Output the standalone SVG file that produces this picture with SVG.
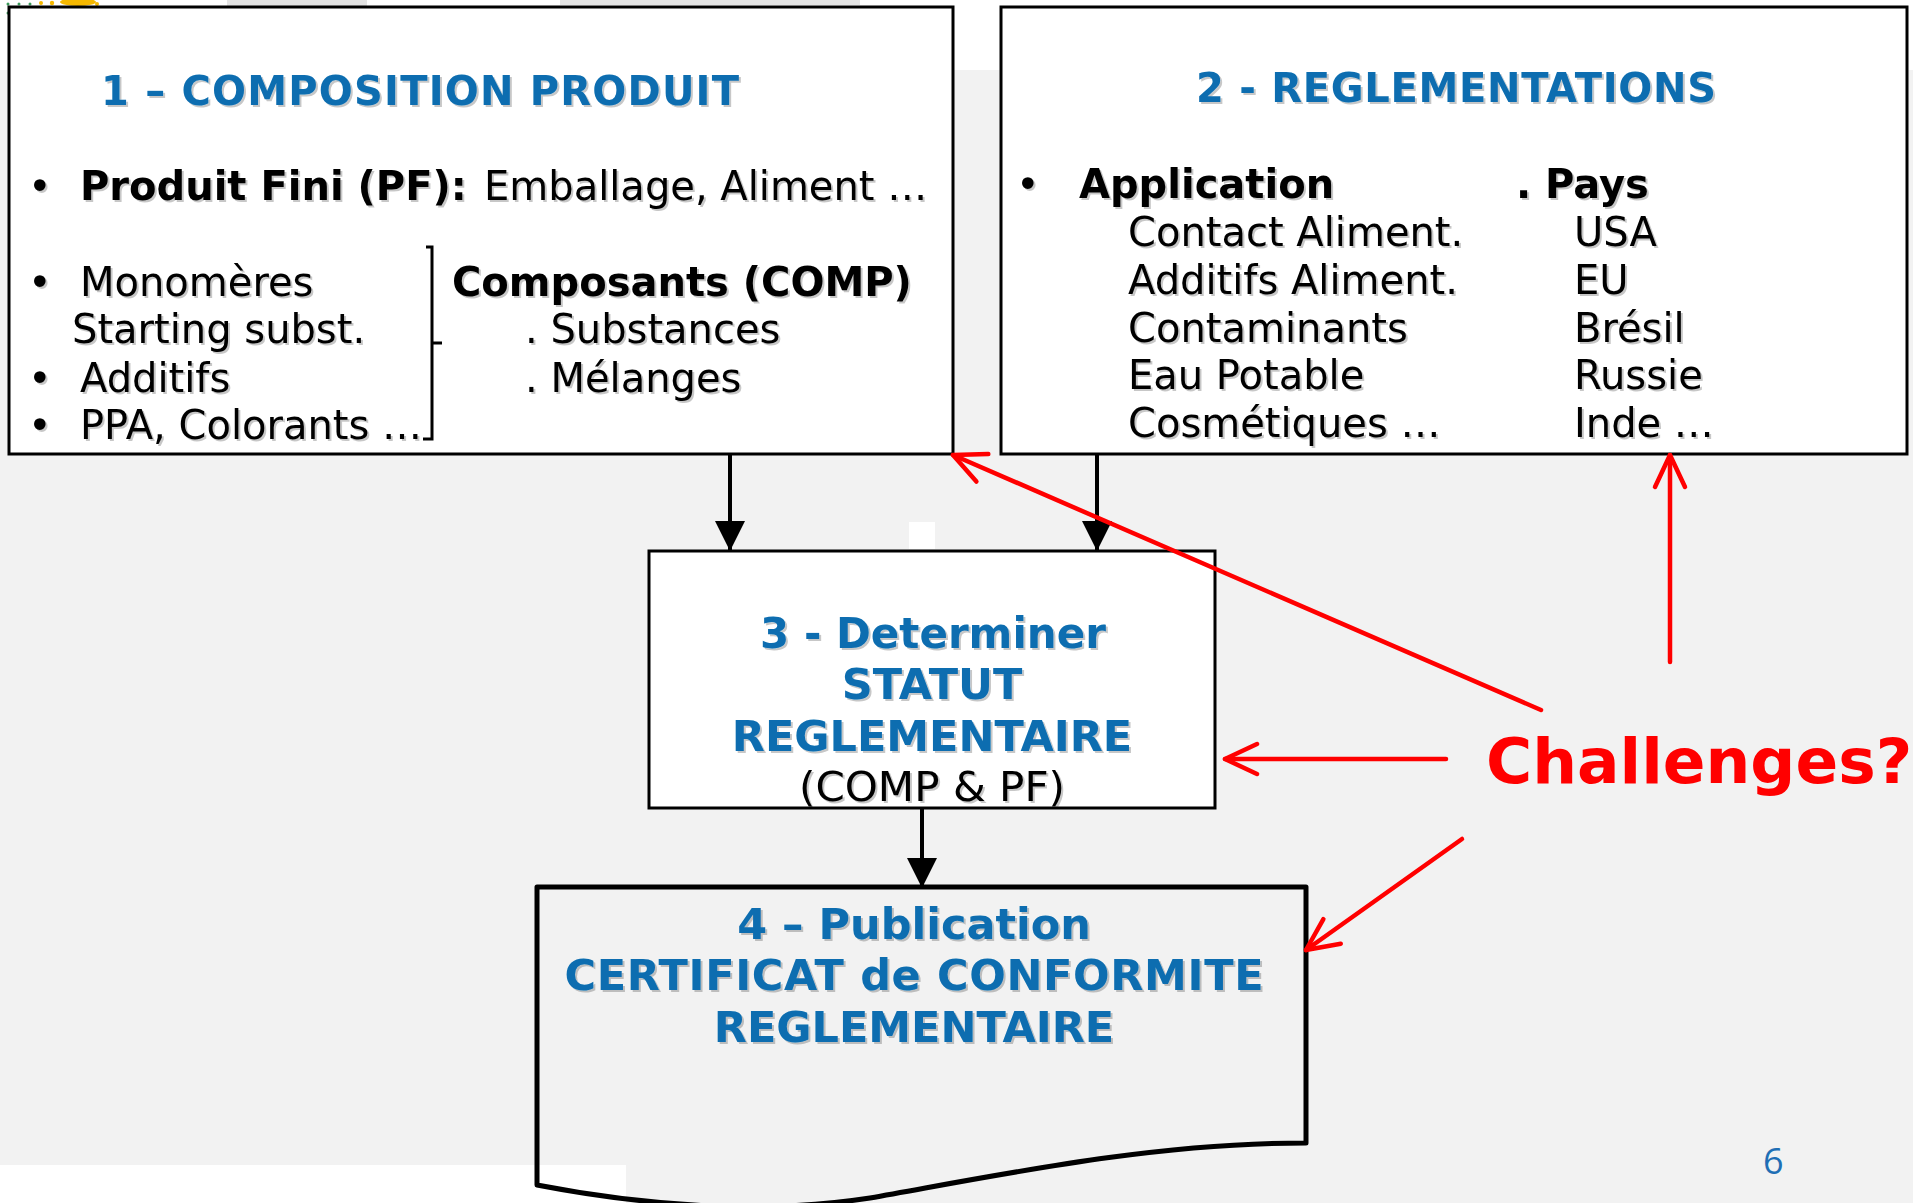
<svg xmlns="http://www.w3.org/2000/svg" width="1913" height="1203" viewBox="0 0 1913 1203">
  <defs>
    <style>
      .box { fill: #ffffff; stroke: #000000; stroke-width: 3; }
      .doc { fill: none; stroke: #000000; stroke-width: 5; stroke-linejoin: round; }
      .t { font-family: "DejaVu Sans", Verdana, sans-serif; font-size: 40px; fill: #000000; }
      .b { font-weight: bold; }
      .blue { font-family: "DejaVu Sans", Verdana, sans-serif; font-weight: bold; fill: #0a6db0; }
      .blk { stroke: #000000; stroke-width: 4; fill: none; }
      .red { stroke: #ff0000; stroke-width: 4.5; fill: none; stroke-linecap: round; }
      .shadow { filter: url(#sh); }
    </style>
    <filter id="sh" x="-5%" y="-30%" width="110%" height="160%">
      <feDropShadow dx="2" dy="2" stdDeviation="0.6" flood-color="#000000" flood-opacity="0.22"/>
    </filter>
    <marker id="ah" viewBox="0 0 30 30" refX="30" refY="15" markerWidth="30" markerHeight="30" markerUnits="userSpaceOnUse" orient="auto">
      <path d="M0,0 L30,15 L0,30 Z" fill="#000000"/>
    </marker>
    <marker id="rv" viewBox="-36 -20 40 40" refX="0" refY="0" markerWidth="40" markerHeight="40" markerUnits="userSpaceOnUse" orient="auto">
      <path d="M-32,-15 L0,0 L-32,15" fill="none" stroke="#ff0000" stroke-width="4.5" stroke-linecap="round" stroke-linejoin="round"/>
    </marker>
  </defs>

  <!-- background -->
  <rect x="0" y="0" width="1913" height="1203" fill="#f2f2f2"/>
  <rect x="0" y="0" width="1913" height="70" fill="#ffffff"/>
  <rect x="0" y="1165" width="626" height="38" fill="#ffffff"/>
  <rect x="909" y="522" width="26" height="27" fill="#ffffff"/>
  <rect x="227" y="0" width="140" height="6" fill="#e4e4e4"/>
  <rect x="560" y="0" width="300" height="5" fill="#e4e4e4"/>
  <g id="logo-fragment">
    <circle cx="8" cy="4" r="1.5" fill="#3a9a5a"/>
    <circle cx="19" cy="4" r="1.5" fill="#3a9a5a"/>
    <circle cx="30" cy="4" r="1.5" fill="#3a9a5a"/>
    <circle cx="8" cy="13" r="1.5" fill="#3a9a5a"/>
    <circle cx="41" cy="3" r="2" fill="#f5b800"/>
    <circle cx="52" cy="3" r="2.2" fill="#f5b800"/>
    <ellipse cx="78" cy="2" rx="18" ry="4" fill="#f5b800"/>
    <circle cx="97" cy="4" r="2" fill="#f5b800"/>
  </g>

  <!-- connectors (black) -->
  <g id="connectors">
    <line class="blk" x1="730" y1="454" x2="730" y2="551" marker-end="url(#ah)"/>
    <line class="blk" x1="1097" y1="454" x2="1097" y2="551" marker-end="url(#ah)"/>
    <line class="blk" x1="922" y1="808" x2="922" y2="888" marker-end="url(#ah)"/>
  </g>

  <!-- node 1 -->
  <g id="node1">
    <rect class="box" x="9" y="7" width="944" height="447"/>
    <g class="shadow">
      <text class="blue" x="101" y="105" font-size="40" textLength="638" lengthAdjust="spacing">1 – COMPOSITION PRODUIT</text>
      <text class="t" x="28" y="200">•</text>
      <text class="t b" x="80" y="200">Produit Fini (PF):</text>
      <text class="t" x="484" y="200">Emballage, Aliment …</text>
      <text class="t" x="28" y="296">•</text>
      <text class="t" x="80" y="296">Monomères</text>
      <text class="t" x="72" y="343">Starting subst.</text>
      <text class="t" x="28" y="392">•</text>
      <text class="t" x="80" y="392">Additifs</text>
      <text class="t" x="28" y="439">•</text>
      <text class="t" x="80" y="439">PPA, Colorants …</text>
      <text class="t b" x="452" y="296">Composants (COMP)</text>
      <text class="t" x="525" y="343">. Substances</text>
      <text class="t" x="525" y="392">. Mélanges</text>
    </g>
    <path d="M426,247 L432,247 L432,439 L423,439 M432,343 L442,343" fill="none" stroke="#000000" stroke-width="3"/>
  </g>

  <!-- node 2 -->
  <g id="node2">
    <rect class="box" x="1001" y="7" width="906" height="447"/>
    <g class="shadow">
      <text class="blue" x="1196" y="102" font-size="40" textLength="520" lengthAdjust="spacing">2 - REGLEMENTATIONS</text>
      <text class="t" x="1016" y="198">•</text>
      <text class="t b" x="1079" y="198">Application</text>
      <text class="t b" x="1516" y="198">.</text>
      <text class="t b" x="1545" y="198">Pays</text>
      <text class="t" x="1128" y="246">Contact Aliment.</text>
      <text class="t" x="1128" y="294">Additifs Aliment.</text>
      <text class="t" x="1128" y="342">Contaminants</text>
      <text class="t" x="1128" y="389">Eau Potable</text>
      <text class="t" x="1128" y="437">Cosmétiques …</text>
      <text class="t" x="1574" y="246">USA</text>
      <text class="t" x="1574" y="294">EU</text>
      <text class="t" x="1574" y="342">Brésil</text>
      <text class="t" x="1574" y="389">Russie</text>
      <text class="t" x="1574" y="437">Inde …</text>
    </g>
  </g>

  <!-- node 3 -->
  <g id="node3">
    <rect class="box" x="649" y="551" width="566" height="257"/>
    <g class="shadow" text-anchor="middle">
      <text class="blue" x="933" y="648" font-size="42">3 - Determiner</text>
      <text class="blue" x="932" y="699" font-size="43">STATUT</text>
      <text class="blue" x="932" y="751" font-size="43">REGLEMENTAIRE</text>
      <text class="t" x="932" y="801" font-size="41" textLength="266" lengthAdjust="spacingAndGlyphs">(COMP &amp; PF)</text>
    </g>
  </g>

  <!-- node 4 -->
  <g id="node4">
    <path class="doc" d="M537,887 L1306,887 L1306,1143 C1150,1143 1000,1175 870,1198 C760,1215 640,1205 537,1185 Z"/>
    <g class="shadow" text-anchor="middle">
      <text class="blue" x="914" y="939" font-size="43">4 – Publication</text>
      <text class="blue" x="914" y="990" font-size="43" textLength="699" lengthAdjust="spacing">CERTIFICAT de CONFORMITE</text>
      <text class="blue" x="914" y="1042" font-size="43">REGLEMENTAIRE</text>
    </g>
  </g>

  <!-- challenges (red) -->
  <g id="challenges">
    <line class="red" x1="1541" y1="710" x2="953" y2="455" marker-end="url(#rv)"/>
    <line class="red" x1="1446" y1="759" x2="1225" y2="759" marker-end="url(#rv)"/>
    <line class="red" x1="1670" y1="662" x2="1670" y2="455" marker-end="url(#rv)"/>
    <line class="red" x1="1462" y1="839" x2="1306" y2="950" marker-end="url(#rv)"/>
    <text x="1486" y="783" font-family="DejaVu Sans, Verdana, sans-serif" font-weight="bold" font-size="63" fill="#ff0000">Challenges?</text>
  </g>

  <text id="page-number" x="1763" y="1174" font-family="Open Sans, DejaVu Sans, sans-serif" font-size="36" fill="#1f6fb5">6</text>
</svg>
